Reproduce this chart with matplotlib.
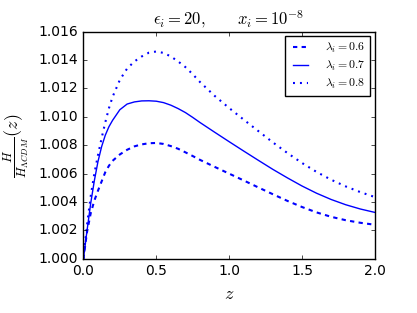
import matplotlib
matplotlib.use("Agg")
import matplotlib.pyplot as plt

plt.style.use("classic")
plt.rcParams["mathtext.fontset"] = "cm"
plt.rcParams["font.family"] = ["DejaVu Sans"]

z = [0.0, 0.025, 0.05, 0.075, 0.1, 0.125, 0.15, 0.175, 0.2, 0.25, 0.3, 0.35, 0.4,
     0.45, 0.5, 0.55, 0.6, 0.65, 0.7, 0.75, 0.8, 0.9, 1.0, 1.1, 1.2, 1.3, 1.4,
     1.5, 1.6, 1.7, 1.8, 1.9, 2.0]

h_06 = [1.0000, 1.0019, 1.0032, 1.0041, 1.0048, 1.00545, 1.0061, 1.00655, 1.0069,
        1.00735, 1.00768, 1.00792, 1.00806, 1.00814, 1.00816, 1.00809, 1.00794,
        1.00775, 1.00750, 1.00724, 1.00697, 1.00648, 1.00600, 1.00552, 1.00503,
        1.00455, 1.00408, 1.00365, 1.00327, 1.00296, 1.00272, 1.00254, 1.0024]

h_07 = [1.0000, 1.0020, 1.0039, 1.0055, 1.00685, 1.0079, 1.0087, 1.0093, 1.00975,
        1.0105, 1.0109, 1.01105, 1.01112, 1.01113, 1.01110, 1.01100, 1.01082,
        1.01058, 1.01030, 1.00996, 1.00960, 1.00892, 1.00825, 1.00759, 1.00694,
        1.00630, 1.00570, 1.00513, 1.00462, 1.00418, 1.00381, 1.00351, 1.00327]

h_08 = [1.0000, 1.0024, 1.0044, 1.0060, 1.0073, 1.0085, 1.0096, 1.0106, 1.0114,
        1.0126, 1.0134, 1.0139, 1.01425, 1.01452, 1.0146, 1.0145, 1.01425,
        1.0139, 1.0135, 1.0130, 1.01245, 1.01148, 1.01062, 1.0098, 1.0090,
        1.0082, 1.00745, 1.00675, 1.00612, 1.00557, 1.00510, 1.00470, 1.00435]

labels = [r"$\lambda_i=0.6$", r"$\lambda_i=0.7$", r"$\lambda_i=0.8$"]
xticks = [0.0, 0.5, 1.0, 1.5, 2.0]
yticks = [1.000, 1.002, 1.004, 1.006, 1.008, 1.010, 1.012, 1.014, 1.016]

fig = plt.figure(figsize=(4.17, 3.13), dpi=100)
ax = fig.add_axes([0.200, 0.173, 0.699, 0.726])
ax.plot(z, h_06, color="b", ls="--", dashes=(3.1, 3.1), lw=1.5, label=labels[0])
ax.plot(z, h_07, color="b", ls="-", lw=1.0, label=labels[1])
ax.plot(z, h_08, color="b", ls=":", dashes=(1.4, 3.6), lw=1.5, label=labels[2])

ax.set_xlim(0, 2)
ax.set_ylim(1.000, 1.016)
ax.set_xticks(xticks)
ax.set_yticks(yticks)
ax.set_xticklabels([f"{t:.1f}" for t in xticks])
ax.set_yticklabels([f"{t:.3f}" for t in yticks])
ax.tick_params(labelsize=10, length=3)
ax.set_xlabel(r"$z$", fontsize=13)
ax.set_ylabel(r"$\frac{H}{H_{\Lambda CDM}}(z)$", fontsize=13)
ax.set_title(r"$\epsilon_i=20,\qquad x_i=10^{-8}$", fontsize=12)
leg = ax.legend(loc="upper right", fontsize=8.5, handlelength=1.9, handletextpad=1.1,
                labelspacing=0.35, borderpad=0.4, borderaxespad=0.4)
fig.savefig("out.png", dpi=100)
